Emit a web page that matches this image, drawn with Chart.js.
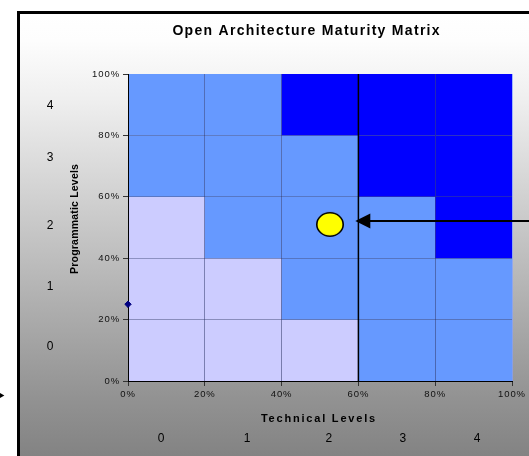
<!DOCTYPE html>
<html><head><meta charset="utf-8">
<script src="https://cdn.jsdelivr.net/npm/chart.js@4/dist/chart.umd.min.js"></script>
<style>html,body{margin:0;padding:0;background:#fff}</style>
</head><body><canvas id="c" width="529" height="456"></canvas>
<script>
// ---- text ----
const chartTitle = 'Open Architecture Maturity Matrix';
const xAxisTitle = 'Technical Levels';
const yAxisTitle = 'Programmatic Levels';
const xTickLabels = ['0%', '20%', '40%', '60%', '80%', '100%'];
const yTickLabels = ['0%', '20%', '40%', '60%', '80%', '100%'];
const technicalLevels = ['0', '1', '2', '3', '4'];
const programmaticLevels = ['0', '1', '2', '3', '4'];
// where the level labels sit along their axis (in %)
const technicalLevelAt = [8.6, 31, 52.3, 71.6, 90.9];
const programmaticLevelAt = [11.1, 30.6, 50.5, 72.9, 89.6];

// ---- matrix ----
const bandEdges = [0, 20, 40, 60, 80, 100];
// maturity class of each cell: rows from bottom band (0-20%) to top band (80-100%)
const cellsRow0 = [1, 1, 1, 2, 2];
const cellsRow1 = [1, 1, 2, 2, 2];
const cellsRow2 = [1, 2, 2, 2, 3];
const cellsRow3 = [2, 2, 2, 3, 3];
const cellsRow4 = [2, 2, 3, 3, 3];
const cellRows = [cellsRow0, cellsRow1, cellsRow2, cellsRow3, cellsRow4];
const classColors = ['', '#CCCCFF', '#6699FF', '#0000FF'];

// ---- marks ----
const currentPosition = [{x: 52.6, y: 51}];
const baselinePoint = [{x: 0, y: 25}];
const thresholdTechnical = 60;
const arrowTarget = {x: 59.2, y: 52.1};
const offPageArrowTip = {x: -32.2, y: -4.7};

function makeEllipse() {
  const c = document.createElement('canvas');
  c.width = 30; c.height = 27;
  const g = c.getContext('2d');
  g.beginPath();
  g.ellipse(15, 13.5, 13.2, 11.7, 0, 0, Math.PI * 2);
  g.fillStyle = '#FFFF00'; g.fill();
  g.lineWidth = 1.6; g.strokeStyle = '#000'; g.stroke();
  return c;
}

function drawText(ctx, s, x, y, font, spacing, rot) {
  ctx.save();
  ctx.font = font;
  ctx.letterSpacing = spacing + 'px';
  ctx.fillStyle = '#000';
  ctx.textAlign = 'center';
  ctx.textBaseline = 'middle';
  ctx.translate(x, y);
  if (rot) ctx.rotate(rot);
  ctx.fillText(s, spacing / 2, 0);
  ctx.restore();
}

const decor = {
  id: 'decor',
  beforeDraw(chart) {
    const ctx = chart.ctx, xs = chart.scales.x, ys = chart.scales.y;
    ctx.save();
    ctx.fillStyle = '#ffffff';
    ctx.fillRect(0, 0, chart.width, chart.height);
    const g = ctx.createLinearGradient(0, 14, 0, chart.height);
    g.addColorStop(0, '#ffffff');
    g.addColorStop(0.06, '#fdfdfd');
    g.addColorStop(0.2, '#eeeeee');
    g.addColorStop(0.42, '#d0d0d0');
    g.addColorStop(0.65, '#b0b0b0');
    g.addColorStop(0.87, '#929292');
    g.addColorStop(1, '#838383');
    ctx.fillStyle = g;
    ctx.fillRect(20, 14, chart.width - 20, chart.height - 14);
    ctx.fillStyle = '#000';
    ctx.fillRect(17, 11, 3, chart.height - 11);
    ctx.fillRect(17, 11, chart.width - 17, 3);
    // matrix cells
    cellRows.forEach((row, r) => {
      row.forEach((cls, c) => {
        const x0 = xs.getPixelForValue(bandEdges[c]);
        const x1 = xs.getPixelForValue(bandEdges[c + 1]);
        const y0 = ys.getPixelForValue(bandEdges[r + 1]);
        const y1 = ys.getPixelForValue(bandEdges[r]);
        ctx.fillStyle = classColors[cls];
        ctx.fillRect(x0, y0, x1 - x0, y1 - y0);
      });
    });
    ctx.restore();
    ctx.letterSpacing = '0.9px';
  },
  afterDatasetsDraw(chart) {
    const ctx = chart.ctx, xs = chart.scales.x, ys = chart.scales.y;
    ctx.save();
    ctx.letterSpacing = '0px';
    const tx = xs.getPixelForValue(arrowTarget.x), ty = ys.getPixelForValue(arrowTarget.y);
    ctx.strokeStyle = '#000'; ctx.fillStyle = '#000'; ctx.lineWidth = 2;
    ctx.beginPath(); ctx.moveTo(chart.width, ty); ctx.lineTo(tx + 12, ty); ctx.stroke();
    ctx.beginPath(); ctx.moveTo(tx, ty); ctx.lineTo(tx + 15, ty - 7.5); ctx.lineTo(tx + 15, ty + 7.5); ctx.closePath(); ctx.fill();
    const px = xs.getPixelForValue(offPageArrowTip.x), py = ys.getPixelForValue(offPageArrowTip.y);
    ctx.beginPath(); ctx.moveTo(px, py); ctx.lineTo(px - 12, py - 7); ctx.lineTo(px - 12, py + 7); ctx.closePath(); ctx.fill();
    ctx.restore();
  },
  afterDraw(chart) {
    const ctx = chart.ctx, xs = chart.scales.x, ys = chart.scales.y;
    const fam = '"Liberation Sans", Arial, sans-serif';
    drawText(ctx, chartTitle, 306, 31, 'bold 14px ' + fam, 1.3, 0);
    drawText(ctx, xAxisTitle, 318, 419, 'bold 11px ' + fam, 1.8, 0);
    drawText(ctx, yAxisTitle, 75, 219, 'bold 10.5px ' + fam, 0.2, -Math.PI / 2);
    technicalLevels.forEach((t, i) => drawText(ctx, t, xs.getPixelForValue(technicalLevelAt[i]), 439, '12px ' + fam, 0, 0));
    programmaticLevels.forEach((t, i) => drawText(ctx, t, 50, ys.getPixelForValue(programmaticLevelAt[i]), '12px ' + fam, 0, 0));
  }
};

const gridCol = (ctx) => ctx.tick && ctx.tick.value === 100 ? 'rgba(130,160,255,0.7)' : 'rgba(30,40,100,0.45)';

new Chart(document.getElementById('c'), {
  type: 'scatter',
  data: {
    datasets: [
      {data: currentPosition, pointStyle: makeEllipse(), pointRadius: 14, clip: false},
      {data: baselinePoint, pointStyle: 'rectRot', pointRadius: 3.2, backgroundColor: '#000080', borderColor: '#000080', borderWidth: 1, clip: false},
      {type: 'line', data: [{x: thresholdTechnical, y: 0}, {x: thresholdTechnical, y: 100}], borderColor: '#000', borderWidth: 1.5, pointRadius: 0, showLine: true, clip: false}
    ]
  },
  options: {
    responsive: false,
    animation: false,
    events: [],
    layout: {padding: {left: 0, top: 74, right: 17, bottom: 0}},
    plugins: {legend: {display: false}, title: {display: false}, tooltip: {enabled: false}},
    scales: {
      x: {
        type: 'linear', min: 0, max: 100,
        afterFit(s) { s.height = 75; },
        afterBuildTicks(s) { s.ticks = bandEdges.map(v => ({value: v})); },
        ticks: {
          callback: (v, i) => xTickLabels[i],
          color: '#111', padding: 3,
          font: {family: '"Liberation Sans", Arial, sans-serif', size: 9.5},
          maxRotation: 0, autoSkip: false
        },
        grid: {color: gridCol, tickColor: '#333', tickLength: 5, lineWidth: 1},
        border: {display: true, color: '#000', width: 1}
      },
      y: {
        type: 'linear', min: 0, max: 100,
        afterFit(s) { s.width = 128; },
        afterBuildTicks(s) { s.ticks = bandEdges.map(v => ({value: v})); },
        ticks: {
          callback: (v, i) => yTickLabels[i],
          color: '#111', padding: 3,
          font: {family: '"Liberation Sans", Arial, sans-serif', size: 9.5},
          autoSkip: false
        },
        grid: {color: (ctx) => ctx.tick && ctx.tick.value === 100 ? 'rgba(0,0,0,0)' : 'rgba(30,40,100,0.35)', tickColor: '#333', tickLength: 5, lineWidth: 1},
        border: {display: true, color: '#000', width: 1}
      }
    }
  },
  plugins: [decor]
});
</script>
</body></html>
